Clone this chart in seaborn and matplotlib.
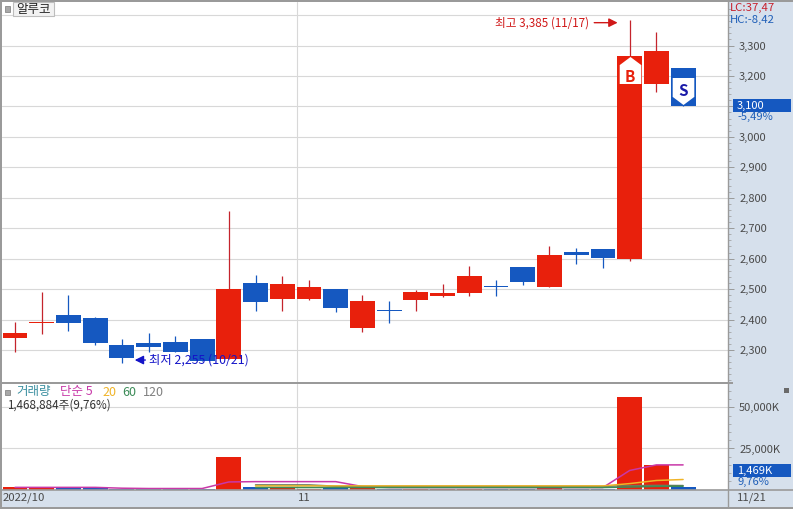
import numpy as np
import pandas as pd
import matplotlib
matplotlib.use('Agg')
import matplotlib.pyplot as plt
from matplotlib.patches import Rectangle
from matplotlib.ticker import FixedLocator
import seaborn as sns

W, H = 793, 509

# candle values
opens = [2340, 2391, 2390, 2324, 2275, 2311, 2294, 2265, 2270, 2459, 2468, 2468, 2439,
         2373, 2431, 2464, 2477, 2488, 2511, 2524, 2507, 2612, 2602, 2599, 3175, 3100]
closes = [2356, 2388, 2415, 2405, 2316, 2323, 2326, 2336, 2500, 2520, 2517, 2507, 2500,
          2461, 2428, 2490, 2487, 2543, 2508, 2573, 2612, 2622, 2632, 3266, 3282, 3226]
highs = [2392, 2490, 2480, 2410, 2336, 2357, 2346, 2336, 2756, 2546, 2543, 2530, 2500,
         2480, 2461, 2497, 2517, 2576, 2530, 2573, 2641, 2635, 2632, 3385, 3344, 3226]
lows = [2294, 2352, 2363, 2316, 2257, 2294, 2294, 2265, 2270, 2429, 2429, 2464, 2426,
        2360, 2390, 2429, 2474, 2478, 2478, 2514, 2507, 2583, 2570, 2593, 3148, 3100]
# True = drawn red, False = drawn blue
is_red = [True, True, False, False, False, False, False, False, True, False, True, True, False,
          True, False, True, True, True, False, False, True, False, False, True, True, False]

# volume in thousands of shares
volumes = [1500, 900, 800, 800, 500, 300, 400, 400, 20100, 1800, 900, 500, 700,
           800, 400, 500, 300, 600, 300, 500, 700, 300, 500, 56100, 15200, 1469]
ma5 = [1300, 1300, 1300, 1300, 800, 600, 600, 600, 4600, 4800, 4800, 4800, 4800,
       1800, 1200, 1200, 1200, 1200, 1200, 1200, 1200, 1200, 1200, 11600, 15000, 15000]
ma20 = [np.nan] * 9 + [2200, 2200, 2200, 2200, 2200, 2200, 2200, 2200, 2200, 2200, 2200,
                       2200, 2200, 2200, 3600, 5500, 6100]
ma60 = [np.nan] * 9 + [1200] * 14 + [1500, 1900, 2000]
ma120 = [np.nan] * 9 + [2800, 2800, 2800, 2000, 2000, 2000, 2000, 2000, 2000, 2000, 2000,
                        2000, 2000, 2000, 2300, 2500, 2400]

price_ticks = [2300, 2400, 2500, 2600, 2700, 2800, 2900, 3000, 3100, 3200, 3300]
price_labels = ['2,300', '2,400', '2,500', '2,600', '2,700', '2,800', '2,900', '3,000', '', '3,200', '3,300']
volume_ticks = [25000, 50000]
volume_labels = ['25,000K', '50,000K']

RED = '#E8200C'
BLUE = '#1558C0'
WICK_RED = '#C4242C'
PANEL = '#D6E0EC'
GRID = '#D8D8D8'
EDGE = '#9A9A9A'
TEXT = '#4A4A4A'

sns.set_theme(style='white')
plt.rcParams['font.family'] = ['Noto Sans CJK KR', 'DejaVu Sans']
plt.rcParams['font.size'] = 8

df = pd.DataFrame({'x': range(len(opens)), 'open': opens, 'close': closes,
                   'high': highs, 'low': lows, 'red': is_red, 'volume': volumes})
df['bottom'] = df[['open', 'close']].min(axis=1)
df['body'] = (df['close'] - df['open']).abs()

fig = plt.figure(figsize=(W / 100, H / 100), dpi=100, facecolor=PANEL)


def box(left, top, right, bottom):
    return [left / W, 1 - bottom / H, (right - left) / W, (bottom - top) / H]


def px_text(x, y, s, **kw):
    kw.setdefault('va', 'center')
    return fig.text(x / W, 1 - y / H, s, **kw)


ax = fig.add_axes(box(2, 2, 728, 383), facecolor='white')
vol = fig.add_axes(box(2, 384, 728, 490), facecolor='white')
strip = fig.add_axes(box(0, 490, W, 507), facecolor=PANEL)

# ----------------- price panel -----------------#
for flag, color, wick in [(True, RED, WICK_RED), (False, BLUE, BLUE)]:
    part = df[df['red'] == flag]
    ax.vlines(part['x'], part['low'], part['high'], color=wick, lw=0.9, zorder=3)
    sns.barplot(data=part, x='x', y='body', bottom=part['bottom'].values, color=color, native_scale=True,
                width=0.93, errorbar=None, saturation=1, linewidth=0, ax=ax, zorder=4)

ax.set_xlim(-0.487, 26.68)
ax.set_ylim(2191.6, 3442.9)
ax.set_xlabel('')
ax.set_ylabel('')
ax.set_xticks([])
ax.yaxis.tick_right()
ax.set_yticks(price_ticks)
ax.set_yticklabels(price_labels, color=TEXT, fontsize=8)
ax.yaxis.set_minor_locator(FixedLocator(np.arange(2200, 3440, 20)))
ax.tick_params(axis='y', which='major', right=True, length=4, width=0.7, color=EDGE, pad=4)
ax.tick_params(axis='y', which='minor', right=True, length=2, width=0.5, color=EDGE)
for v in price_ticks + [3400]:
    ax.axhline(v, color=GRID, lw=0.8, zorder=1)
ax.axvline(10.56, color=GRID, lw=0.8, zorder=1)

# buy / sell signals
house = [(-0.4, -0.5), (-0.4, 0.2), (0, 0.5), (0.4, 0.2), (0.4, -0.5), (-0.4, -0.5)]
shield = [(-0.4, 0.5), (0.4, 0.5), (0.4, -0.2), (0, -0.5), (-0.4, -0.2), (-0.4, 0.5)]
ax.scatter([23], [3218], marker=house, s=378, c='white', linewidths=0, zorder=6)
ax.scatter([25], [3149], marker=shield, s=378, c='white', linewidths=0, zorder=6)
ax.text(23, 3197, 'B', color=RED, fontsize=11, fontweight='bold', ha='center', va='center', zorder=7)
ax.text(25, 3150, 'S', color='#1A1AA8', fontsize=11, fontweight='bold', ha='center', va='center', zorder=7)

# high / low notes
ax.annotate('최고 3,385 (11/17)', xy=(22.55, 3375), xytext=(21.5, 3375), color='#D01818', fontsize=8.4,
            ha='right', va='center', zorder=8,
            arrowprops=dict(arrowstyle='-|>', color='#D01818', lw=1, shrinkA=1, shrinkB=0, mutation_scale=13))
ax.annotate('최저 2,255 (10/21)', xy=(4.48, 2267), xytext=(5.0, 2267), color='#1414C8', fontsize=8.9,
            ha='left', va='center', zorder=8,
            arrowprops=dict(arrowstyle='-|>', color='#1414C8', lw=1, shrinkA=0, shrinkB=0, mutation_scale=13))

# ----------------- volume panel -----------------#
for flag, color in [(True, RED), (False, BLUE)]:
    part = df[df['red'] == flag]
    sns.barplot(data=part, x='x', y='volume', color=color, native_scale=True, width=0.93,
                errorbar=None, saturation=1, linewidth=0, ax=vol, zorder=3)

# magenta goes first, the slower averages sit on top of it
line_styles = [(ma5, '#C838A8', 4), (ma120, '#6E7A5A', 5), (ma20, '#F0B428', 6), (ma60, '#3C8C58', 7)]
for values, color, order in line_styles:
    sns.lineplot(x=df['x'], y=values, color=color, lw=1.1, errorbar=None, ax=vol, zorder=order)

vol.set_xlim(-0.487, 26.68)
vol.set_ylim(-300, 64300)
vol.set_xlabel('')
vol.set_ylabel('')
vol.set_xticks([])
vol.yaxis.tick_right()
vol.set_yticks(volume_ticks)
vol.set_yticklabels(volume_labels, color=TEXT, fontsize=8)
vol.yaxis.set_minor_locator(FixedLocator(np.arange(0, 64000, 5000)))
vol.tick_params(axis='y', which='major', right=True, length=4, width=0.7, color=EDGE, pad=4)
vol.tick_params(axis='y', which='minor', right=True, length=2, width=0.5, color=EDGE)
for v in volume_ticks:
    vol.axhline(v, color=GRID, lw=0.8, zorder=1)
vol.axvline(10.56, color=GRID, lw=0.8, zorder=1)

# frames
for a in (ax, vol):
    for side in ('top', 'bottom', 'left'):
        a.spines[side].set_visible(False)
    a.spines['right'].set_color(EDGE)
    a.spines['right'].set_linewidth(1)

strip.set_xticks([])
strip.set_yticks([])
strip.set_xlim(0, W)
strip.set_ylim(0, 1)
for side in ('left', 'right', 'bottom'):
    strip.spines[side].set_visible(False)
strip.spines['top'].set_color(EDGE)
strip.spines['top'].set_linewidth(1.2)
strip.axvline(728, color=EDGE, lw=1)

for rect in [(0, 0, W, 1.5), (0, 382, 733, 2), (0, 507, W, 2), (0, 0, 2, 507)]:
    fig.add_artist(Rectangle((rect[0] / W, 1 - (rect[1] + rect[3]) / H), rect[2] / W, rect[3] / H,
                             transform=fig.transFigure, fc=EDGE, ec='none', zorder=9))

# ----------------- labels -----------------#
fig.add_artist(Rectangle((5 / W, 1 - 12 / H), 5 / W, 6 / H, transform=fig.transFigure,
                         fc='#A8A8A8', ec='#888888', lw=0.6, zorder=9))
fig.add_artist(Rectangle((12.5 / W, 1 - 16 / H), 41 / W, 13.5 / H, transform=fig.transFigure,
                         fc='#F2F2F2', ec='#BDBDBD', lw=0.8, zorder=9))
px_text(33, 9.5, '알루코', color='#222222', fontsize=9, ha='center', zorder=10)

px_text(730, 8, 'LC:37,47', color='#C8202C', fontsize=8.2, zorder=10)
px_text(730, 20, 'HC:-8,42', color='#2060B8', fontsize=8.2, zorder=10)

fig.add_artist(Rectangle((733 / W, 1 - 112 / H), 58 / W, 13 / H, transform=fig.transFigure,
                         fc=BLUE, ec='none', zorder=9))
px_text(737, 105.5, '3,100', color='white', fontsize=8, zorder=10)
px_text(737, 117, '-5,49%', color='#2060B8', fontsize=8, zorder=10)

fig.add_artist(Rectangle((733 / W, 1 - 477 / H), 58 / W, 13 / H, transform=fig.transFigure,
                         fc=BLUE, ec='none', zorder=9))
px_text(737, 470.5, '1,469K', color='white', fontsize=8, zorder=10)
px_text(737, 482, '9,76%', color='#2060B8', fontsize=8, zorder=10)

fig.add_artist(Rectangle((784 / W, 1 - 393 / H), 5 / W, 5 / H, transform=fig.transFigure,
                         fc='#6A6A6A', ec='none', zorder=9))

fig.add_artist(Rectangle((5 / W, 1 - 395 / H), 5 / W, 5 / H, transform=fig.transFigure,
                         fc='#A8A8A8', ec='#888888', lw=0.6, zorder=9))
px_text(16, 392, '거래량', color='#3A8FA0', fontsize=9, zorder=10)
px_text(60, 392, '단순 5', color='#C838A8', fontsize=9, zorder=10)
px_text(102, 392, '20', color='#F0B428', fontsize=9, zorder=10)
px_text(122, 392, '60', color='#3C8C58', fontsize=9, zorder=10)
px_text(143, 392, '120', color='#808080', fontsize=9, zorder=10)
px_text(7, 405, '1,468,884주(9,76%)', color='#333333', fontsize=8.4, zorder=10)

px_text(3, 498, '2022/10', color=TEXT, fontsize=8.2, zorder=10)
px_text(298, 498, '11', color=TEXT, fontsize=8.2, zorder=10)
px_text(737, 498, '11/21', color=TEXT, fontsize=8.2, zorder=10)

fig.savefig('out.png', dpi=100, facecolor=fig.get_facecolor())
